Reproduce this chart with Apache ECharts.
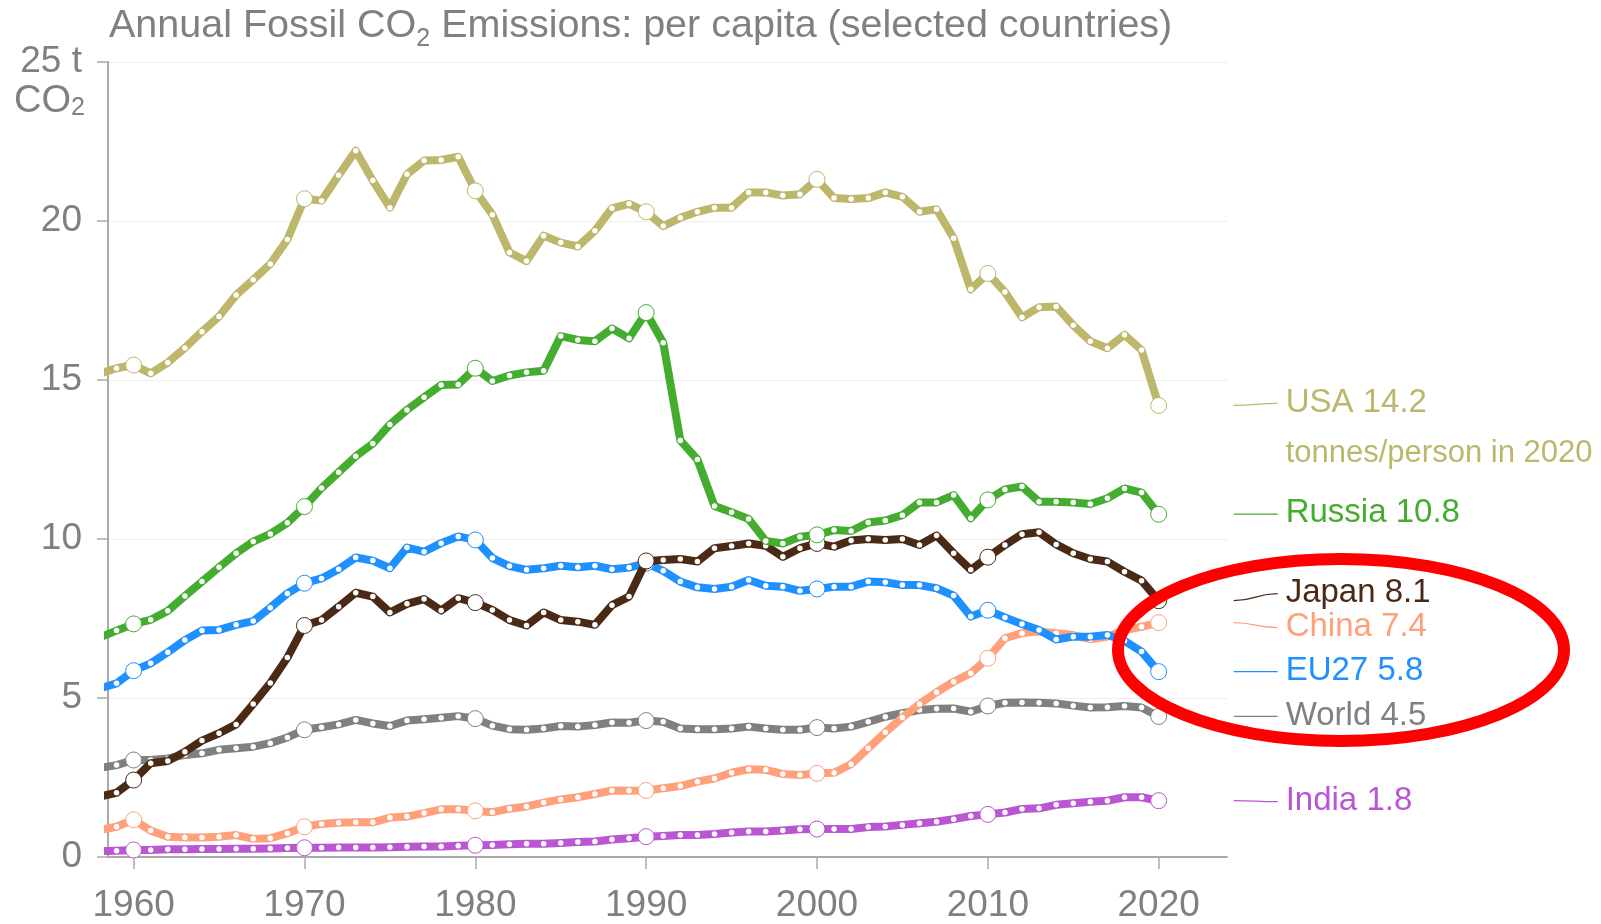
<!DOCTYPE html>
<html><head><meta charset="utf-8">
<script src="https://cdn.jsdelivr.net/npm/echarts@6/dist/echarts.min.js"></script>
<style>html,body{margin:0;padding:0;background:#fff}#c{width:1601px;height:924px}</style>
</head><body><div id="c"></div>
<script>
// ---------- DATA ----------
const years = [];
for (let y = 1958; y <= 2020; y++) years.push(y);

const usa = [15.2,15.37,
  15.47,15.21,15.55,16.01,16.52,17.0,17.67,18.15,18.65,19.42,
  20.7,20.64,21.44,22.21,21.27,20.42,21.47,21.9,21.92,22.02,
  20.95,20.2,19.01,18.74,19.54,19.32,19.2,19.69,20.4,20.54,
  20.29,19.84,20.1,20.29,20.42,20.42,20.9,20.9,20.8,20.84,
  21.31,20.72,20.69,20.72,20.9,20.76,20.29,20.37,19.46,17.85,
  18.35,17.77,16.97,17.29,17.31,16.72,16.22,16.0,16.42,15.94,
  14.2];
const russia = [6.9,7.12,
  7.33,7.46,7.74,8.21,8.66,9.11,9.55,9.92,10.16,10.51,
  11.02,11.6,12.1,12.6,13.0,13.6,14.06,14.46,14.84,14.86,
  15.37,14.97,15.14,15.24,15.29,16.38,16.26,16.22,16.62,16.31,
  17.12,16.17,13.1,12.5,11.04,10.84,10.63,9.94,9.86,10.07,
  10.13,10.28,10.25,10.52,10.58,10.75,11.15,11.15,11.38,10.65,
  11.23,11.56,11.65,11.17,11.17,11.15,11.1,11.28,11.59,11.46,
  10.78];
const eu27 = [5.3,5.46,
  5.86,6.09,6.44,6.82,7.12,7.14,7.3,7.42,7.84,8.29,
  8.61,8.76,9.05,9.42,9.32,9.08,9.73,9.6,9.87,10.08,
  9.97,9.4,9.15,9.03,9.08,9.16,9.11,9.16,9.05,9.1,
  9.24,9.0,8.66,8.48,8.43,8.5,8.71,8.53,8.5,8.37,
  8.43,8.5,8.5,8.66,8.64,8.55,8.55,8.45,8.22,7.56,
  7.76,7.53,7.33,7.14,6.84,6.93,6.93,6.98,6.8,6.46,
  5.83];
const japan = [1.9,2.02,
  2.42,2.95,3.02,3.31,3.66,3.89,4.17,4.81,5.47,6.27,
  7.28,7.45,7.87,8.31,8.19,7.69,7.96,8.11,7.75,8.14,
  8.0,7.77,7.45,7.28,7.69,7.45,7.4,7.3,7.92,8.19,
  9.31,9.34,9.37,9.29,9.71,9.78,9.86,9.79,9.44,9.71,
  9.86,9.76,9.95,10.0,9.97,10.0,9.81,10.11,9.55,9.03,
  9.43,9.81,10.15,10.21,9.83,9.55,9.37,9.29,8.97,8.69,
  8.06];
const china = [0.85,0.95,
  1.17,0.83,0.64,0.61,0.61,0.64,0.69,0.57,0.59,0.75,
  0.95,1.04,1.08,1.09,1.09,1.24,1.27,1.38,1.5,1.5,
  1.45,1.41,1.52,1.59,1.71,1.81,1.88,1.98,2.09,2.08,
  2.09,2.16,2.23,2.37,2.47,2.65,2.76,2.74,2.61,2.58,
  2.63,2.65,2.92,3.42,3.92,4.39,4.81,5.18,5.51,5.78,
  6.25,6.88,7.04,7.09,7.04,6.98,6.85,6.93,7.14,7.24,
  7.37];
const world = [2.8,2.89,
  3.05,3.05,3.1,3.21,3.26,3.37,3.42,3.47,3.58,3.76,
  4.0,4.08,4.17,4.31,4.2,4.12,4.29,4.33,4.38,4.43,
  4.35,4.13,4.02,4.0,4.04,4.12,4.1,4.15,4.23,4.22,
  4.29,4.25,4.04,4.02,4.02,4.04,4.1,4.04,4.0,4.0,
  4.07,4.04,4.1,4.25,4.41,4.52,4.62,4.66,4.67,4.57,
  4.75,4.85,4.86,4.85,4.83,4.76,4.7,4.71,4.75,4.7,
  4.42];
const india = [0.18,0.2,
  0.22,0.22,0.24,0.24,0.25,0.25,0.26,0.26,0.27,0.28,
  0.29,0.29,0.3,0.3,0.3,0.31,0.32,0.33,0.33,0.35,
  0.37,0.38,0.4,0.42,0.42,0.44,0.47,0.49,0.55,0.59,
  0.64,0.66,0.69,0.69,0.72,0.77,0.8,0.8,0.83,0.87,
  0.88,0.88,0.88,0.94,0.96,1.01,1.06,1.11,1.19,1.29,
  1.34,1.4,1.51,1.53,1.64,1.69,1.74,1.77,1.88,1.88,
  1.77];

const countryNames = ['World','India','China','EU27','Japan','Russia','USA'];
const countryValues = [world, india, china, eu27, japan, russia, usa];
const endLabels = ['4.5','1.8','7.4','5.8','8.1','10.8','14.2'];
const unitNote = 'tonnes/person in 2020';
const xTicks = [1960,1970,1980,1990,2000,2010,2020];
const yTicks = [0,5,10,15,20,25];

// ---------- STYLE ----------
const colors = {World:'#808080', India:'#ba55d3', China:'#ffa07a', EU27:'#1e90ff',
                Japan:'#4a2a15', Russia:'#44ad30', USA:'#bdb76b'};
const labelDy = {World:0, India:1, China:5, EU27:0, Japan:-7, Russia:0, USA:-2};
const FONT = '"Liberation Sans", Arial, Helvetica, sans-serif';
const grey = '#808080';

const lineSeries = countryNames.map((name, i) => ({
  name, type: 'line', clip: true,
  data: years.map((y, j) => [y, countryValues[i][j]]),
  symbol: 'circle',
  symbolSize: v => (v[0] % 10 === 0 ? 16 : 5.5),
  showSymbol: true,
  lineStyle: {color: colors[name], width: 8, cap: 'round', join: 'round'},
  itemStyle: {
    color: '#fff',
    borderColor: colors[name],
    borderWidth: 1
  },
  emphasis: {disabled: true},
  z: 2 + i
}));
// small yearly dots: plain white; decade circles keep a thin coloured outline
lineSeries.forEach(s => {
  s.data = s.data.map(d => (d[0] % 10 === 0 ? d : {value: d, itemStyle: {borderWidth: 0}}));
});

const lastYear = years[years.length - 1];
const labelSeries = {
  type: 'custom', clip: false, z: 20, silent: true,
  data: countryNames.map((n, i) => [lastYear, countryValues[i][countryValues[i].length - 1], i]),
  renderItem: (params, api) => {
    const i = api.value(2);
    const name = countryNames[i];
    const c = colors[name];
    const p = api.coord([api.value(0), api.value(1)]);
    const x1 = p[0] + 75, x2 = p[0] + 119, y1 = p[1], y2 = p[1] + labelDy[name];
    const children = [
      {type: 'bezierCurve', shape: {x1, y1, x2, y2, cpx1: x1 + 22, cpy1: y1, cpx2: x2 - 22, cpy2: y2},
       style: {stroke: c, lineWidth: 1.3, fill: null}},
      {type: 'text', x: p[0] + 127, y: y2 - 1,
       style: {text: name + ' ' + endLabels[i], fill: c, fontSize: 33, fontFamily: FONT,
               align: 'left', verticalAlign: 'middle'}}
    ];
    if (name === 'USA') {
      children.push({type: 'text', x: p[0] + 127, y: y2 + 50,
        style: {text: unitNote, fill: c, fontSize: 31, fontFamily: FONT, align: 'left', verticalAlign: 'middle'}});
    }
    return {type: 'group', children};
  }
};

const option = {
  animation: false,
  backgroundColor: '#fff',
  textStyle: {fontFamily: FONT},
  title: {
    text: 'Annual Fossil CO{sub|2} Emissions: per capita (selected countries)',
    left: 109, top: 0, padding: 0,
    textStyle: {fontSize: 39.5, fontWeight: 'normal', color: grey, fontFamily: FONT, lineHeight: 52,
      rich: {sub: {fontSize: 25, lineHeight: 25, verticalAlign: 'bottom', color: grey, fontFamily: FONT}}}
  },
  grid: {left: 108, right: 374, top: 62, bottom: 67, containLabel: false},
  xAxis: {
    type: 'value', min: 1958.5, max: 2024,
    axisLine: {show: true, lineStyle: {color: '#aaaaaa', width: 2}},
    axisTick: {show: true, customValues: xTicks, length: 12, lineStyle: {color: '#aaaaaa', width: 1.5}},
    axisLabel: {customValues: xTicks, fontSize: 37, color: grey, margin: 30, fontFamily: FONT,
      formatter: v => String(v)},
    splitLine: {show: false}
  },
  yAxis: {
    type: 'value', min: 0, max: 25, interval: 5,
    name: 'CO{sub|2}', nameLocation: 'end', nameGap: -40,
    nameTextStyle: {fontSize: 38, color: grey, align: 'right', verticalAlign: 'middle',
      padding: [0, 23, 0, 0], fontFamily: FONT,
      rich: {sub: {fontSize: 25, verticalAlign: 'bottom', lineHeight: 18, color: grey, fontFamily: FONT}}},
    axisLine: {show: true, lineStyle: {color: '#aaaaaa', width: 2}},
    axisTick: {show: true, length: 11, lineStyle: {color: '#aaaaaa', width: 1.5}},
    axisLabel: {fontSize: 37, color: grey, margin: 26, fontFamily: FONT,
      formatter: v => (v === yTicks[yTicks.length - 1] ? v + ' t' : String(v))},
    splitLine: {show: true, lineStyle: {color: '#eeeeee', width: 1}}
  },
  graphic: [{
    type: 'ellipse', z: 100, silent: true,
    shape: {cx: 1341, cy: 650, rx: 223, ry: 91},
    style: {fill: null, stroke: '#ff0000', lineWidth: 12}
  }],
  series: [...lineSeries, labelSeries]
};

echarts.init(document.getElementById('c'), null, {renderer: 'canvas'}).setOption(option);
</script>
</body></html>
